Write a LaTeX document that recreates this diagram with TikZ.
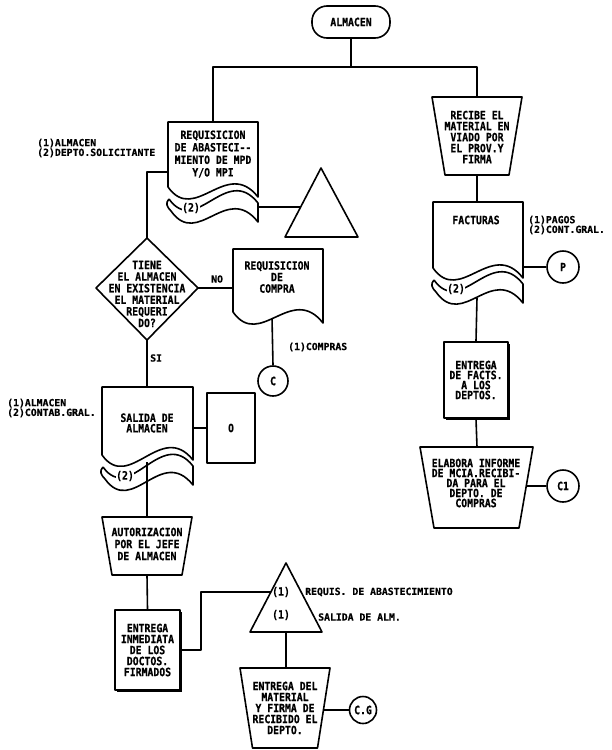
\documentclass[tikz,border=0pt]{standalone}
\usepackage{fontspec}
\newfontfamily\boxfont{DejaVu Sans Mono}[FakeStretch=0.86, BoldFeatures={FakeBold=0.6}]
\newfontfamily\labfont{DejaVu Sans Mono}[BoldFeatures={FakeBold=0.5}]
\usetikzlibrary{shadows}
\tikzset{
  ln/.style={line width=1.6pt, line join=round},
  bt/.style={font=\boxfont\bfseries\fontsize{11.4}{11}\selectfont, align=center, inner sep=0pt},
  lt/.style={font=\labfont\bfseries\fontsize{9.8}{8}\selectfont, align=left, inner sep=0pt, anchor=west},
  circ/.style={ln, draw, circle, inner sep=0pt, bt},
  shbox/.style={ln, draw, fill=white, bt, general shadow={fill=black, shadow xshift=2pt, shadow yshift=-2pt}},
  copytag/.style={bt, fill=white, inner sep=0.5pt}
}
\newcommand\multidoc[6]{% name, xl, ytop, w, yl, yr
  \draw[ln] (#2,#5) -- (#2,#3) -- (#2+#4,#3) -- (#2+#4,#6) .. controls +(-0.35*#4,-40) and +(0.3*#4,38) .. (#2,#5);
  \draw[ln] (#2+1,#5+12) .. controls +(-4,4) and +(-4,-4) .. (#2+3,#5+24) .. controls +(0.3*#4,38) and +(-0.35*#4,-40) .. (#2+#4,#6+25) -- (#2+#4,#6+6) .. controls +(-0.35*#4,-40) and +(0.3*#4,38) .. (#2+1,#5+12);
  \node[copytag] (#1-copy) at (#2+23,#5+21) {(2)};
}
\newcommand\trapez[5]{% cx, ytop, topw, botw, ybot
  \draw[ln] (#1-#3/2,#2) -- (#1+#3/2,#2) -- (#1+#4/2,#5) -- (#1-#4/2,#5) -- cycle;
}
\begin{document}
\begin{tikzpicture}[x=1pt,y=-1pt]
\useasboundingbox (0,0) rectangle (612,750);

% ---------- start ----------
\node[ln, draw, rounded corners=15pt, minimum width=78pt, minimum height=32pt, bt] (term) at (351,22) {ALMACEN};
\coordinate (j) at (351,67);
\coordinate (d1n) at (213,122);
\coordinate (t1n) at (477,97);
\draw[ln] (term.south) -- (j);
\draw[ln] (d1n) |- (j) -| (t1n);

% ---------- left column ----------
\multidoc{doc1}{168}{122}{90}{187}{197}
\node[bt, font=\boxfont\bfseries\fontsize{11.4}{12.5}\selectfont] (doc1) at (213,154) {REQUISICION\\DE ABASTECI-{}-\\MIENTO DE MPD\\Y/O MPI};
\node[lt] (lab1) at (37,148) {(1)ALMACEN\\(2)DEPTO.SOLICITANTE};
\coordinate (d1w) at (168,172);
\coordinate (d1e) at (258,207);

% triangle 1
\draw[ln] (321,168) -- (358,237) -- (285,237) -- cycle;
\coordinate (tri1w) at (300,207);
\draw[ln] (d1e) -- (tri1w);

% diamond
\draw[ln] (147,238) -- (198,288) -- (147,340) -- (96,288) -- cycle;
\coordinate (dn) at (147,238);
\coordinate (de) at (198,288);
\coordinate (ds) at (147,340);
\node[bt, font=\boxfont\bfseries\fontsize{11.4}{11.6}\selectfont] (dia) at (147,294) {TIENE\\EL ALMACEN\\EN EXISTENCIA\\EL MATERIAL\\REQUERI\\DO?};
\draw[ln] (d1w) -| (dn);

% requisicion de compra
\draw[ln] (233,312) -- (233,249) -- (323,249) -- (323,323) .. controls +(-31.5,-40) and +(27,38) .. (233,312);
\node[bt, font=\boxfont\bfseries\fontsize{11.4}{11.5}\selectfont] (doc2) at (277,277) {REQUISICION\\DE\\COMPRA};
\coordinate (d2w) at (233,288);
\coordinate (d2s) at (272,318);
\node[lt] (no) at (211,279) {NO};
\draw[ln] (de) -- (d2w);
\node[circ, minimum size=30pt] (C) at (273,381) {C};
\draw[ln] (d2s) -- (C.north);
\node[lt] (lab2) at (288,347) {(1)COMPRAS};

% salida de almacen
\node[lt] (si) at (150,358) {SI};
\multidoc{sal}{102}{387}{91}{455}{460}
\node[bt, font=\boxfont\bfseries\fontsize{11.4}{10.5}\selectfont] (saltxt) at (147,423) {SALIDA DE\\ALMACEN};
\coordinate (saln) at (147,387);
\coordinate (sale) at (193,428);
\coordinate (sals) at (147,462);
\draw[ln] (ds) -- (saln);
\node[lt] (lab3) at (7,408) {(1)ALMACEN\\(2)CONTAB.GRAL.};
\node[ln, draw, bt, minimum width=48pt, minimum height=70pt] (O) at (231,428) {O};
\draw[ln] (sale) -- (O.west);

% autorizacion
\trapez{147}{517}{90}{70}{575}
\coordinate (autn) at (147,517);
\coordinate (auts) at (147,575);
\node[bt, font=\boxfont\bfseries\fontsize{11.4}{12}\selectfont] (aut) at (147,544) {AUTORIZACION\\POR EL JEFE\\DE ALMACEN};
\draw[ln] (sals) -- (autn);

% entrega inmediata
\node[shbox, minimum width=65pt, minimum height=80pt, font=\boxfont\bfseries\fontsize{11.4}{11}\selectfont] (ent1) at (147.5,650) {ENTREGA\\INMEDIATA\\DE LOS\\DOCTOS.\\FIRMADOS};
\draw[ln] (auts) -- (ent1.north);

% triangle 2
\draw[ln] (286,563) -- (322,632) -- (250,632) -- cycle;
\coordinate (tri2w) at (271,592);
\coordinate (tri2s) at (286,632);
\node[bt] (t2a) at (281,592) {(1)};
\node[bt] (t2b) at (281,615) {(1)};
\node[lt] (lab4) at (305,592) {REQUIS. DE ABASTECIMIENTO};
\node[lt] (lab5) at (318,617) {SALIDA DE ALM.};
\draw[ln] (ent1.east) -- ++(20,0) |- (tri2w);

% entrega del material
\trapez{285}{668}{90}{65}{748}
\coordinate (ent2n) at (286,668);
\coordinate (ent2e) at (324,710);
\node[bt, font=\boxfont\bfseries\fontsize{11.4}{11}\selectfont] (ent2) at (285,708) {ENTREGA DEL\\MATERIAL\\Y FIRMA DE\\RECIBIDO EL\\DEPTO.};
\draw[ln] (tri2s) -- (ent2n);
\node[circ, minimum size=27pt] (CG) at (363,710) {C.G};
\draw[ln] (ent2e) -- (CG.west);

% ---------- right column ----------
\trapez{477}{97}{90}{64}{175}
\node[bt, font=\boxfont\bfseries\fontsize{11.4}{11}\selectfont] (rec) at (477,137) {RECIBE EL\\MATERIAL EN\\VIADO POR\\EL PROV.Y\\FIRMA};
\coordinate (t1s) at (477,175);

\multidoc{fac}{433}{202}{90}{268}{278}
\node[bt] (factxt) at (476,220) {FACTURAS};
\coordinate (facn) at (477,202);
\coordinate (face) at (523,267);
\coordinate (facs) at (477,298);
\draw[ln] (t1s) -- (facn);
\node[lt] (lab6) at (528,225) {(1)PAGOS\\(2)CONT.GRAL.};
\node[circ, minimum size=32pt] (P) at (563,267) {P};
\draw[ln] (face) -- (P.west);

\node[shbox, minimum width=64pt, minimum height=76pt, font=\boxfont\bfseries\fontsize{11.4}{10}\selectfont] (ef) at (476,380) {ENTREGA\\DE FACTS.\\A LOS\\DEPTOS.};
\draw[ln] (facs) -- (ef.north);

\trapez{476.5}{447}{113}{85}{528}
\coordinate (t3n) at (477,447);
\coordinate (t3e) at (527,486);
\node[bt, font=\boxfont\bfseries\fontsize{11.4}{10}\selectfont] (ela) at (476,483) {ELABORA INFORME\\DE MCIA.RECIBI-\\DA PARA EL\\DEPTO. DE\\COMPRAS};
\draw[ln] (ef.south) -- (t3n);
\node[circ, minimum size=32pt] (C1) at (563,486) {C1};
\draw[ln] (t3e) -- (C1.west);
\end{tikzpicture}
\end{document}
